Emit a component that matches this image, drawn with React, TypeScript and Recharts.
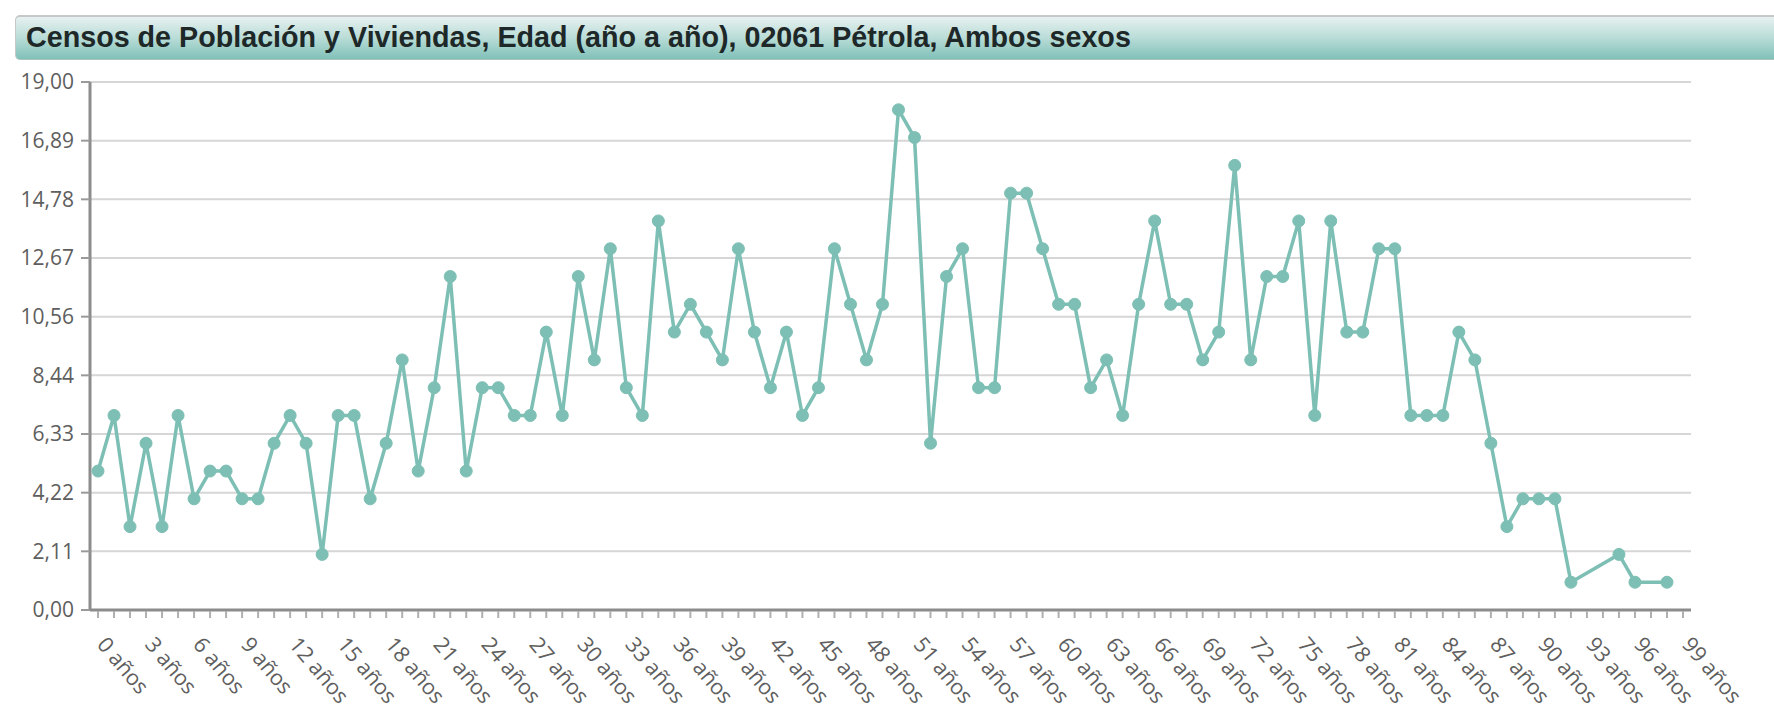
import React from 'react';
import { LineChart, Line, XAxis, YAxis, CartesianGrid } from 'recharts';

const ages: number[] = Array.from({ length: 100 }, (_, i) => i);
const categories: string[] = ages.map((a) => `${a} años`);

const poblacion: (number | null)[] = [
  5, 7, 3, 6, 3, 7, 4, 5, 5, 4,
  4, 6, 7, 6, 2, 7, 7, 4, 6, 9,
  5, 8, 12, 5, 8, 8, 7, 7, 10, 7,
  12, 9, 13, 8, 7, 14, 10, 11, 10, 9,
  13, 10, 8, 10, 7, 8, 13, 11, 9, 11,
  18, 17, 6, 12, 13, 8, 8, 15, 15, 13,
  11, 11, 8, 9, 7, 11, 14, 11, 11, 9,
  10, 16, 9, 12, 12, 14, 7, 14, 10, 10,
  13, 13, 7, 7, 7, 10, 9, 6, 3, 4,
  4, 4, 1, null, null, 2, 1, null, 1, null,
];

const yTicks: number[] = [0, 19 / 9, 38 / 9, 57 / 9, 76 / 9, 95 / 9, 114 / 9, 133 / 9, 152 / 9, 19];

const title = 'Censos de Población y Viviendas, Edad (año a año), 02061 Pétrola, Ambos sexos';

const data = categories.map((c, i) => ({ edad: c, valor: poblacion[i] }));

const fmt = (v: number) => v.toFixed(2).replace('.', ',');

const LINE_COLOR = '#7dbfb4';

function XTick(props: any) {
  const { x, y, payload, index } = props;
  const show = index % 3 === 0;
  const ax = x - 2;
  const ay = y + 35;
  return (
    <g>
      <line x1={x} y1={y + 1} x2={x} y2={y + 8} stroke="#b0b0b0" strokeWidth={2} />
      {show && (
        <text
          x={ax}
          y={ay}
          transform={`rotate(50 ${ax} ${ay})`}
          textAnchor="start"
          fontSize={21.5}
          fill="#5e5e5e"
          fontFamily="'Open Sans', sans-serif"
        >
          {payload.value}
        </text>
      )}
    </g>
  );
}

export default function App() {
  return (
    <div style={{ position: 'absolute', left: 0, top: 0, width: 1774, height: 712, background: '#fff', overflow: 'hidden' }}>
      <div
        style={{
          position: 'absolute',
          left: 15,
          top: 15,
          width: 1759,
          height: 45,
          boxSizing: 'border-box',
          borderTop: '2px solid #c4c8c8',
          borderLeft: '1px solid #c4c8c8',
          borderBottom: '1px solid #a8c4c0',
          borderRadius: '5px 0 0 5px',
          background: 'linear-gradient(to bottom, #e6f1f0 0%, #b9dcd7 50%, #80c1b8 100%)',
          fontFamily: "'Liberation Sans', Arial, sans-serif",
          fontWeight: 'bold',
          fontSize: 28.7,
          color: '#1e2828',
          lineHeight: '41px',
          paddingLeft: 10,
          whiteSpace: 'nowrap',
        }}
      >
        {title}
      </div>
      <LineChart
        width={1774}
        height={712}
        data={data}
        margin={{ top: 82, right: 83, bottom: 2, left: 0 }}
      >
        <CartesianGrid vertical={false} stroke="#d6d6d6" strokeWidth={2} />
        <XAxis
          dataKey="edad"
          interval={0}
          height={100}
          tickSize={0}
          tickMargin={0}
          tickLine={false}
          padding={{ left: 8, right: 8 }}
          tick={<XTick />}
          axisLine={{ stroke: '#8c8c8c', strokeWidth: 3 }}
        />
        <XAxis
          xAxisId="top"
          dataKey="edad"
          orientation="top"
          height={0}
          tick={false}
          tickLine={false}
          axisLine={{ stroke: '#9a9a9a', strokeWidth: 3 }}
        />
        <YAxis
          domain={[0, 19]}
          ticks={yTicks}
          width={90}
          tickFormatter={fmt}
          tickSize={9}
          tickMargin={7}
          tick={{ fontSize: 21, fill: '#5e5e5e', fontFamily: "'Open Sans', sans-serif" }}
          tickLine={{ stroke: '#9a9a9a', strokeWidth: 2 }}
          axisLine={{ stroke: '#8c8c8c', strokeWidth: 3 }}
        />
        <YAxis
          yAxisId="right"
          orientation="right"
          domain={[0, 19]}
          width={0}
          tick={false}
          tickLine={false}
          axisLine={{ stroke: '#9a9a9a', strokeWidth: 3 }}
        />
        <Line
          type="linear"
          dataKey="valor"
          stroke={LINE_COLOR}
          strokeWidth={3.5}
          connectNulls
          dot={{ r: 6, fill: LINE_COLOR, stroke: LINE_COLOR, strokeWidth: 1 }}
          activeDot={false}
          isAnimationActive={false}
        />
      </LineChart>
    </div>
  );
}
